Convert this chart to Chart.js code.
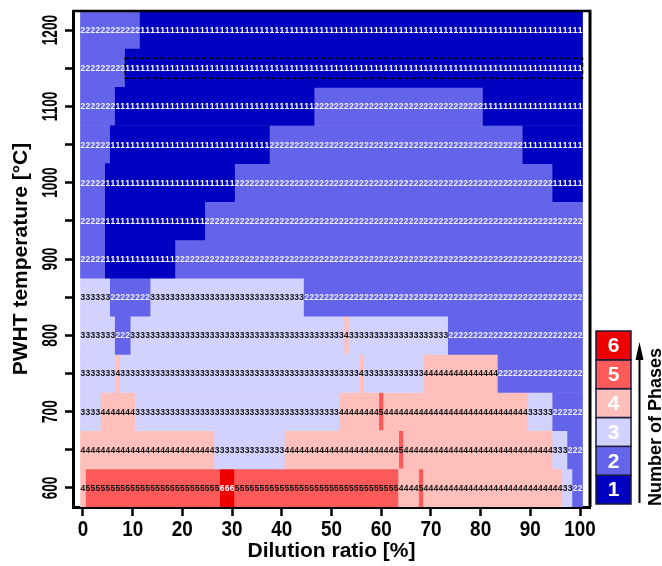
<!DOCTYPE html>
<html>
<head>
<meta charset="utf-8">
<title>Phase map</title>
<script src="https://cdn.jsdelivr.net/npm/chart.js@4.4.1/dist/chart.umd.min.js"></script>
<style>
  html, body { margin: 0; padding: 0; background: #fff; }
</style>
</head>
<body>
<canvas id="phaseMap" width="662" height="566"></canvas>
<script>
// PWHT temperature of each row [°C], top row first
const temperatures = [1200, 1150, 1100, 1050, 1000, 950, 900, 850, 800, 750, 700, 650, 600];

// number of phases along dilution ratio 0..100 %, one column per 1 %
// written as [phase, number of columns] runs left to right
const row1200 = [[2, 12], [1, 89]];
const row1150 = [[2, 9], [1, 92]];
const row1100 = [[2, 7], [1, 40], [2, 34], [1, 20]];
const row1050 = [[2, 6], [1, 32], [2, 51], [1, 12]];
const row1000 = [[2, 5], [1, 26], [2, 64], [1, 6]];
const row950 = [[2, 5], [1, 20], [2, 76]];
const row900 = [[2, 5], [1, 14], [2, 82]];
const row850 = [[3, 6], [2, 8], [3, 31], [2, 56]];
const row800 = [[3, 7], [2, 3], [3, 43], [4, 1], [3, 20], [2, 27]];
const row750 = [[3, 7], [4, 1], [3, 48], [4, 1], [3, 12], [4, 15], [2, 17]];
const row700 = [[3, 4], [4, 7], [3, 41], [4, 8], [5, 1], [4, 29], [3, 5], [2, 6]];
const row650 = [[4, 27], [3, 14], [4, 23], [5, 1], [4, 30], [3, 3], [2, 3]];
const row600 = [[4, 1], [5, 27], [6, 3], [5, 33], [4, 4], [5, 1], [4, 28], [3, 2], [2, 2]];
const phaseRuns = [row1200, row1150, row1100, row1050, row1000, row950, row900,
  row850, row800, row750, row700, row650, row600];

const phaseLevels = [1, 2, 3, 4, 5, 6];
const phaseColors = ['#0000c0', '#6464eb', '#d2d2ff', '#ffc0bc', '#ff5a5a', '#ee0000'];
const digitColors = ['#ffffff', '#f0f0ff', '#111111', '#111111', '#111111', '#ffffff'];

const xTicks = [0, 10, 20, 30, 40, 50, 60, 70, 80, 90, 100];
const yTicks = [600, 650, 700, 750, 800, 850, 900, 950, 1000, 1050, 1100, 1150, 1200];
const yTickLabels = [600, 700, 800, 900, 1000, 1100, 1200];

// dashed box around the 1150 °C single-phase stretch
const highlightRow = 1150;
const highlightCols = [9, 100];

const sans = '"Liberation Sans", Arial, sans-serif';

// turn runs into floating bars (one dataset per phase) and single cells for the digits
const barsByPhase = phaseLevels.map(() => []);
const cells = [];
temperatures.forEach((t, r) => {
  let col = 0;
  phaseRuns[r].forEach(([phase, n]) => {
    barsByPhase[phase - 1].push({ x: [col - 0.5, col + n - 0.5], y: t });
    for (let k = 0; k < n; k++) cells.push({ col: col + k, t, phase });
    col += n;
  });
});

// condensed text: squeeze along the writing direction
function squeezedText(ctx, text, x, y, rot, sx) {
  ctx.save();
  ctx.translate(x, y);
  if (rot) ctx.rotate(rot);
  ctx.scale(sx, 1);
  ctx.fillText(text, 0, 0);
  ctx.restore();
}

const cellDigits = {
  id: 'cellDigits',
  afterDatasetsDraw(chart) {
    const { ctx, scales: { x, y }, chartArea } = chart;
    ctx.save();
    ctx.beginPath();
    ctx.rect(chartArea.left, chartArea.top, chartArea.width, chartArea.height);
    ctx.clip();
    ctx.font = 'bold 9px ' + sans;
    ctx.textAlign = 'center';
    ctx.textBaseline = 'middle';
    cells.forEach(c => {
      ctx.fillStyle = digitColors[c.phase - 1];
      squeezedText(ctx, String(c.phase), x.getPixelForValue(c.col), y.getPixelForValue(c.t) + 0.5, 0, 0.94);
    });
    ctx.restore();
  }
};

const extras = {
  id: 'extras',
  afterDraw(chart) {
    const { ctx, scales: { x, y }, chartArea } = chart;
    ctx.save();

    // top and right frame
    ctx.strokeStyle = '#000';
    ctx.lineWidth = 2.5;
    ctx.beginPath();
    ctx.moveTo(chartArea.left, chartArea.top);
    ctx.lineTo(chartArea.right, chartArea.top);
    ctx.stroke();
    ctx.lineWidth = 3;
    ctx.beginPath();
    ctx.moveTo(chartArea.right, chartArea.top - 1.25);
    ctx.lineTo(chartArea.right, chartArea.bottom);
    ctx.stroke();

    // dashed highlight
    const hx0 = x.getPixelForValue(highlightCols[0] - 0.5);
    const hx1 = x.getPixelForValue(highlightCols[1] + 0.5);
    const hy0 = y.getPixelForValue(highlightRow + 13);
    const hy1 = y.getPixelForValue(highlightRow - 13);
    ctx.setLineDash([4, 3]);
    ctx.lineWidth = 1.5;
    ctx.strokeRect(hx0, hy0, hx1 - hx0, hy1 - hy0);
    ctx.setLineDash([]);

    // tick labels
    ctx.fillStyle = '#000';
    ctx.font = 'bold 22px ' + sans;
    ctx.textAlign = 'center';
    ctx.textBaseline = 'alphabetic';
    xTicks.forEach(v => {
      squeezedText(ctx, String(v), x.getPixelForValue(v), 536, 0, 0.86);
    });
    yTickLabels.forEach(v => {
      squeezedText(ctx, String(v), 57, y.getPixelForValue(v), -Math.PI / 2, 0.62);
    });

    // colour key
    const kLeft = 596, kRight = 631, kTop = 331, kBottom = 504;
    const kh = (kBottom - kTop) / phaseLevels.length;
    phaseLevels.forEach((p, i) => {
      const y0 = kBottom - (i + 1) * kh;
      ctx.fillStyle = phaseColors[i];
      ctx.fillRect(kLeft, y0, kRight - kLeft, kh);
      ctx.strokeStyle = '#1b1b3a';
      ctx.lineWidth = 1.5;
      ctx.strokeRect(kLeft, y0, kRight - kLeft, kh);
      ctx.fillStyle = '#fff';
      ctx.font = 'bold 21px ' + sans;
      ctx.textAlign = 'center';
      ctx.textBaseline = 'middle';
      ctx.fillText(String(p), (kLeft + kRight) / 2, y0 + kh / 2 + 1);
    });

    // arrow
    ctx.strokeStyle = '#000';
    ctx.fillStyle = '#000';
    ctx.lineWidth = 2;
    ctx.beginPath();
    ctx.moveTo(639.5, 503);
    ctx.lineTo(639.5, 356);
    ctx.stroke();
    ctx.beginPath();
    ctx.moveTo(639.5, 342);
    ctx.lineTo(635.5, 360);
    ctx.lineTo(643.5, 360);
    ctx.closePath();
    ctx.fill();

    ctx.font = 'bold 18px ' + sans;
    ctx.textAlign = 'center';
    ctx.textBaseline = 'alphabetic';
    ctx.translate(661, 427);
    ctx.rotate(-Math.PI / 2);
    ctx.fillText('Number of Phases', 0, 0);

    ctx.restore();
  }
};

new Chart(document.getElementById('phaseMap'), {
  type: 'bar',
  data: {
    datasets: phaseLevels.map((p, i) => ({
      label: String(p),
      data: barsByPhase[i],
      backgroundColor: phaseColors[i],
      borderWidth: 0,
      barPercentage: 1,
      categoryPercentage: 1,
      grouped: false
    }))
  },
  options: {
    indexAxis: 'y',
    responsive: false,
    animation: false,
    layout: { padding: { left: 0, right: 72, top: 11, bottom: 0 } },
    plugins: { legend: { display: false }, tooltip: { enabled: false } },
    scales: {
      x: {
        type: 'linear',
        min: -2,
        max: 102,
        afterBuildTicks: s => { s.ticks = xTicks.map(v => ({ value: v })); },
        afterFit: s => { s.height = 59; },
        grid: { drawOnChartArea: false, drawTicks: true, tickLength: 9, tickColor: '#000', tickWidth: 2.5 },
        border: { display: true, color: '#000', width: 3 },
        ticks: { display: false },
        title: {
          display: true,
          text: 'Dilution ratio [%]',
          color: '#000',
          font: { family: sans, weight: 'bold', size: 21 },
          padding: { top: 0, bottom: 2 }
        }
      },
      y: {
        type: 'linear',
        min: 575,
        max: 1225,
        offset: false,
        afterBuildTicks: s => { s.ticks = yTicks.map(v => ({ value: v })); },
        afterFit: s => { s.width = 73; },
        grid: { offset: false, drawOnChartArea: false, drawTicks: true, tickLength: 8, tickColor: '#000', tickWidth: 2.5 },
        border: { display: true, color: '#000', width: 3 },
        ticks: { display: false },
        title: {
          display: true,
          text: 'PWHT temperature [°C]',
          color: '#000',
          font: { family: sans, weight: 'bold', size: 21 },
          padding: { top: 9, bottom: 0 }
        }
      }
    }
  },
  plugins: [cellDigits, extras]
});
</script>
</body>
</html>
